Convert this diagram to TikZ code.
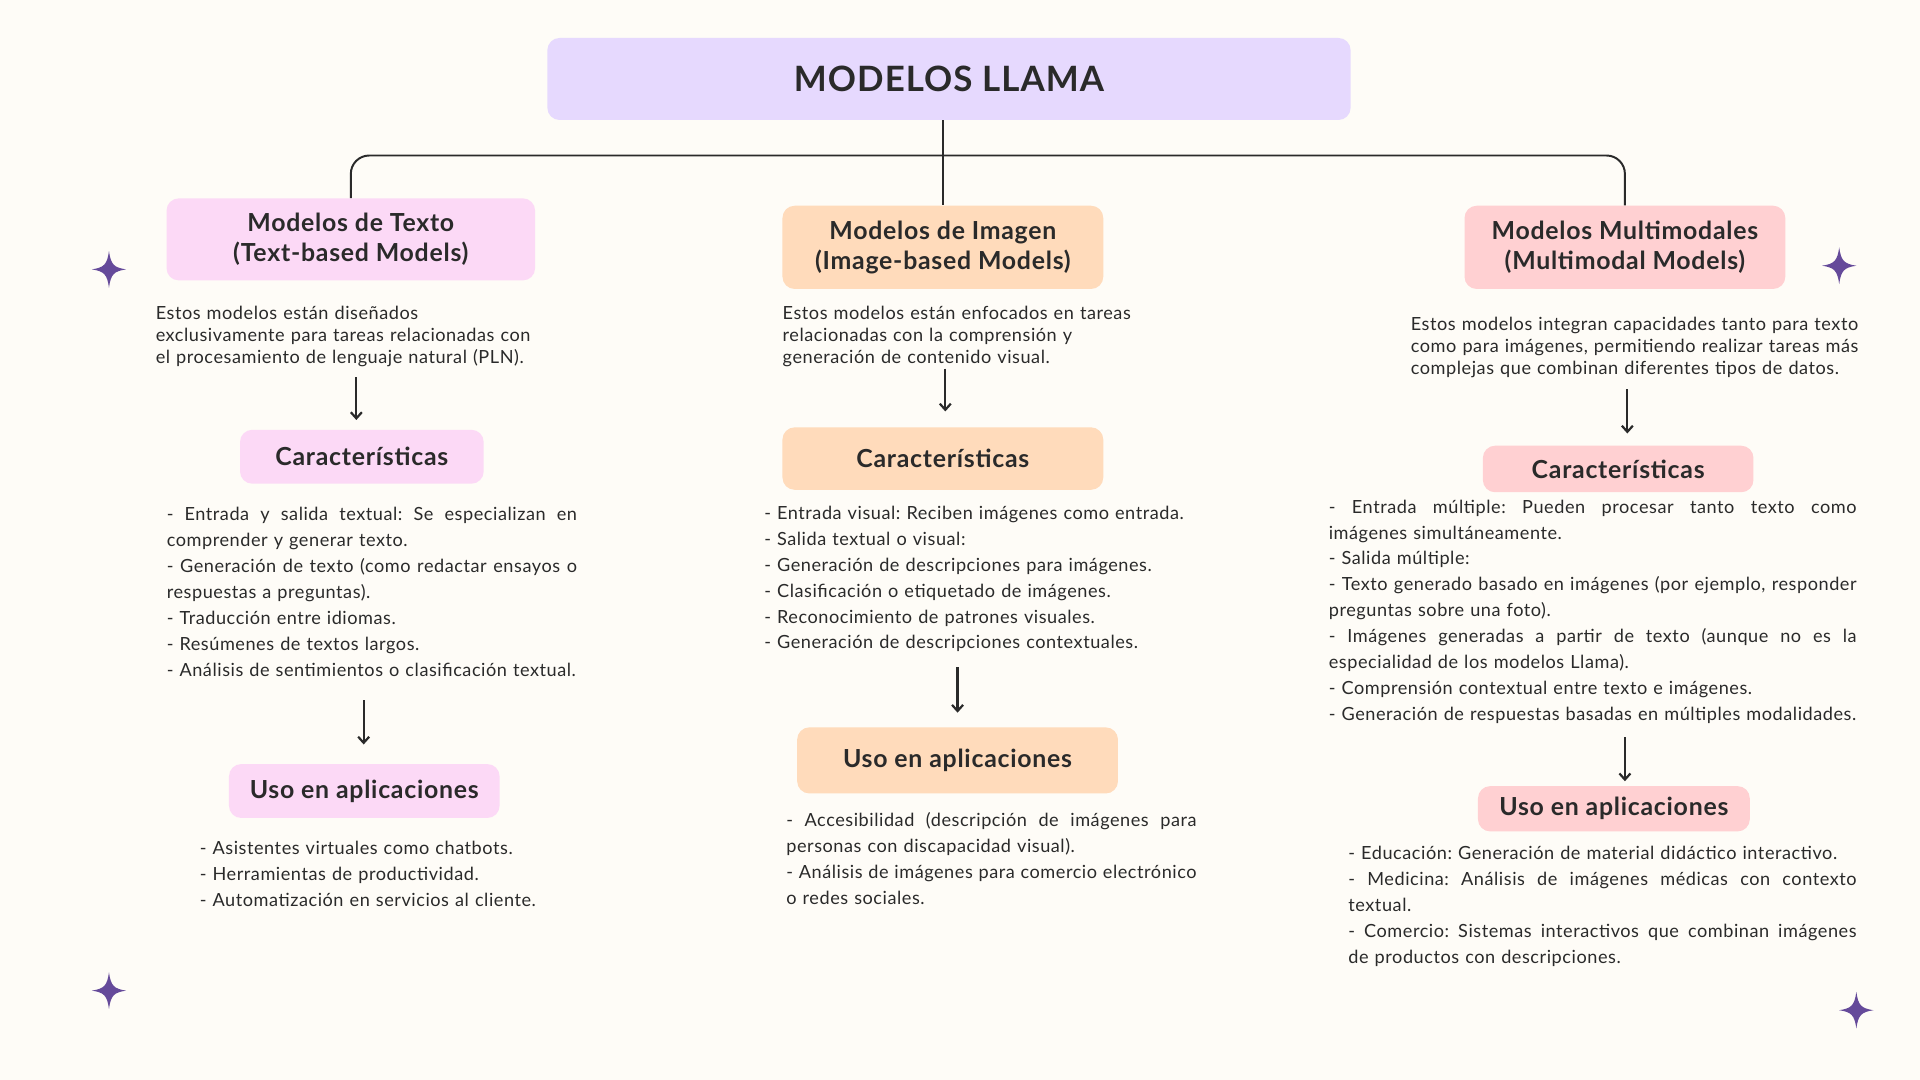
\documentclass[tikz,border=0pt]{standalone}
\usepackage{fontspec}
\setmainfont{Lato}[LetterSpace=3]
\usetikzlibrary{arrows.meta}
\definecolor{bg}{HTML}{FEFCF7}
\definecolor{ink}{HTML}{2A2A2A}
\definecolor{titlefill}{HTML}{E6D9FE}
\definecolor{pinkfill}{HTML}{FCD9F6}
\definecolor{peachfill}{HTML}{FFDBBB}
\definecolor{rosefill}{HTML}{FFD0D2}
\definecolor{starcol}{HTML}{654A9A}
\newcommand{\jline}[2]{\leavevmode\hbox to #1pt{\spaceskip=0.26em plus 1fil\relax #2}}
\frenchspacing
\begin{document}
\begin{tikzpicture}[x=1pt,y=-1pt,
  box/.style={rounded corners=10pt, inner sep=0pt, text=ink, align=center,
    font=\fontsize{20.3}{24}\selectfont\bfseries},
  body/.style={inner sep=0pt, anchor=base west, text=ink, align=left,
    font=\fontsize{14.8}{21.2}\selectfont\frenchspacing},
  desc/.style={body, font=\fontsize{14.8}{18}\selectfont\frenchspacing},
  link/.style={draw=ink, line width=1.6pt},
  arr/.style={draw=ink, line width=1.8pt, -{Straight Barb[length=5pt,width=9pt]}},
  sparkle/.pic={\fill[starcol] (0,-15) .. controls (1.5,-4) and (4,-1.5) .. (14,0)
     .. controls (4,1.5) and (1.5,4) .. (0,15) .. controls (-1.5,4) and (-4,1.5) .. (-14,0)
     .. controls (-4,-1.5) and (-1.5,-4) .. (0,-15) -- cycle;}]
\fill[bg] (0,0) rectangle (1568,882);
\useasboundingbox (0,0) rectangle (1568,882);

% title
\node[box, fill=titlefill, minimum width=656, minimum height=67,
  font=\fontsize{28.5}{34}\selectfont\bfseries] (title) at (775,64.5) {MODELOS LLAMA};

% level 1 boxes
\node[box, fill=pinkfill, minimum width=301, minimum height=67] (txt) at (286.5,195.5)
  {Modelos de Texto\\(Text-based Models)};
\node[box, fill=peachfill, minimum width=262, minimum height=68] (img) at (770,202)
  {Modelos de Imagen\\(Image-based Models)};
\node[box, fill=rosefill, minimum width=262, minimum height=68] (mm) at (1327,202)
  {Modelos Multimodales\\(Multimodal Models)};

% tree connectors
\coordinate (bar) at (770,127);
\draw[link, line width=2.2pt] (title.south -| img.north) -- (img.north);
\draw[link, rounded corners=15pt] (txt.north) |- (bar) -| (mm.north);

% descriptions
\node[desc, text width=360] (d1) at (127,261) {Estos modelos están diseñados\\exclusivamente para tareas relacionadas con\\el procesamiento de lenguaje natural (PLN).};
\node[desc, text width=340] (d2) at (639,261) {Estos modelos están enfocados en tareas\\relacionadas con la comprensión y\\generación de contenido visual.};
\node[desc, text width=400] (d3) at (1152,270) {Estos modelos integran capacidades tanto para texto\\como para imágenes, permitiendo realizar tareas más\\complejas que combinan diferentes tipos de datos.};

% Características boxes
\node[box, fill=pinkfill, minimum width=199, minimum height=44] (c1) at (295.5,373) {Características};
\node[box, fill=peachfill, minimum width=262, minimum height=51] (c2) at (770,374.5) {Características};
\node[box, fill=rosefill, minimum width=221, minimum height=38] (c3) at (1321.5,383) {Características};

% feature lists
\node[body, text width=335] (b1) at (136,425) {%
\jline{335}{- Entrada y salida textual: Se especializan en}\\
comprender y generar texto.\\
\jline{335}{- Generación de texto (como redactar ensayos o}\\
respuestas a preguntas).\\
- Traducción entre idiomas.\\
- Resúmenes de textos largos.\\
- Análisis de sentimientos o clasificación textual.};
\node[body, text width=380] (b2) at (624,424) {%
- Entrada visual: Reciben imágenes como entrada.\\
- Salida textual o visual:\\
- Generación de descripciones para imágenes.\\
- Clasificación o etiquetado de imágenes.\\
- Reconocimiento de patrones visuales.\\
- Generación de descripciones contextuales.};
\node[body, text width=431] (b3) at (1085,419) {%
\jline{431}{- Entrada múltiple: Pueden procesar tanto texto como}\\
imágenes simultáneamente.\\
- Salida múltiple:\\
\jline{431}{- Texto generado basado en imágenes (por ejemplo, responder}\\
preguntas sobre una foto).\\
\jline{431}{- Imágenes generadas a partir de texto (aunque no es la}\\
especialidad de los modelos Llama).\\
- Comprensión contextual entre texto e imágenes.\\
- Generación de respuestas basadas en múltiples modalidades.};

% Uso boxes
\node[box, fill=pinkfill, minimum width=221, minimum height=44] (u1) at (297.5,646) {Uso en aplicaciones};
\node[box, fill=peachfill, minimum width=262, minimum height=54] (u2) at (782,621) {Uso en aplicaciones};
\node[box, fill=rosefill, minimum width=222, minimum height=37] (u3) at (1318,660.5) {Uso en aplicaciones};

% usage lists
\node[body, text width=320] (e1) at (163,698) {%
- Asistentes virtuales como chatbots.\\
- Herramientas de productividad.\\
- Automatización en servicios al cliente.};
\node[body, text width=335] (e2) at (642,675) {%
\jline{335}{- Accesibilidad (descripción de imágenes para}\\
personas con discapacidad visual).\\
\jline{335}{- Análisis de imágenes para comercio electrónico}\\
o redes sociales.};
\node[body, text width=415] (e3) at (1101,702) {%
- Educación: Generación de material didáctico interactivo.\\
\jline{415}{- Medicina: Análisis de imágenes médicas con contexto}\\
textual.\\
\jline{415}{- Comercio: Sistemas interactivos que combinan imágenes}\\
de productos con descripciones.};

% arrows
\coordinate (a1s) at (291,308);  \coordinate (a1e) at (291,343);
\coordinate (a2s) at (297,572);  \coordinate (a2e) at (297,608);
\coordinate (a3s) at (772,301);  \coordinate (a3e) at (772,336);
\coordinate (a4s) at (782,545);  \coordinate (a4e) at (782,582);
\coordinate (a5s) at (1329,318); \coordinate (a5e) at (1329,354);
\coordinate (a6s) at (1327,602); \coordinate (a6e) at (1327,638);
\draw[arr] (a1s) -- (a1e);
\draw[arr] (a2s) -- (a2e);
\draw[arr] (a3s) -- (a3e);
\draw[arr] (a4s) -- (a4e);
\draw[arr] (a5s) -- (a5e);
\draw[arr] (a6s) -- (a6e);

% sparkles
\pic at (89,220) {sparkle};
\pic at (1502,217) {sparkle};
\pic at (89,809) {sparkle};
\pic at (1516,825) {sparkle};
\end{tikzpicture}
\end{document}
